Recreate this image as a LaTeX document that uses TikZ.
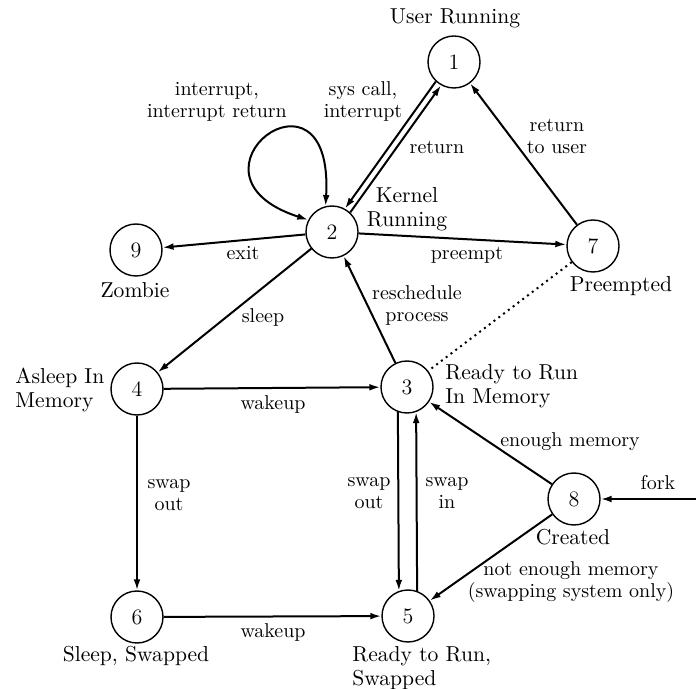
\documentclass[tikz,border=0pt]{standalone}
\usepackage{tikz}
\usetikzlibrary{arrows.meta}

\begin{document}
\begin{tikzpicture}[x=0.5pt, y=-0.5pt,
    proc/.style={draw, circle, line width=0.7pt, minimum size=26pt,
                 inner sep=0pt, font=\fontsize{11}{13}\selectfont},
    stname/.style={font=\fontsize{10.8}{12}\selectfont, inner sep=0pt},
    lbl/.style={font=\fontsize{10}{11}\selectfont, align=center, inner sep=0pt},
    arr/.style={-{Latex[length=5.5pt,width=3.4pt]}, line width=1pt},
    dblarr/.style={{Latex[length=5.5pt,width=3.4pt]}-{Latex[length=5.5pt,width=3.4pt]}, line width=1pt}
  ]
    \useasboundingbox (0,0) rectangle (696,689);

    % process states
    \node[proc] (n1) at (454,62)  {1};
    \node[proc] (n2) at (332,232) {2};
    \node[proc] (n3) at (407,387) {3};
    \node[proc] (n4) at (137,389) {4};
    \node[proc] (n5) at (408,616) {5};
    \node[proc] (n6) at (137,617) {6};
    \node[proc] (n7) at (593,246) {7};
    \node[proc] (n8) at (574,499) {8};
    \node[proc] (n9) at (136,250) {9};
    \coordinate (forkin) at (696,499);

    % state names
    \node[stname] at (455,18) {User Running};
    \node[stname, align=center] at (407,209) {Kernel\\Running};
    \node[stname] at (135,290) {Zombie};
    \node[stname] at (621,286) {Preempted};
    \node[stname, align=left, anchor=west] at (15,390) {Asleep In\\Memory};
    \node[stname, align=left, anchor=west] at (445,386) {Ready to Run\\In Memory};
    \node[stname] at (573,537) {Created};
    \node[stname] at (136,656) {Sleep, Swapped};
    \node[stname, align=left, anchor=west] at (352,668) {Ready to Run,\\Swapped};

    % transitions
    \draw[arr] (n1.227) -- (n2.61);
    \draw[arr] (n2.47) -- (n1.241);
    \draw[dblarr] (n2.153) .. controls +(-140,-45) and +(9,-158) .. (n2.104);
    \draw[arr] (n2) -- (n9);
    \draw[arr] (n2) -- (n7);
    \draw[arr] (n7) -- (n1);
    \draw[line width=1pt, dotted] (n7) -- (n3);
    \draw[arr] (n3) -- (n2);
    \draw[arr] (n2) -- (n4);
    \draw[arr] (n4) -- (n3);
    \draw[arr] (n4) -- (n6);
    \draw[arr] (n6) -- (n5);
    \draw[arr] (n3.250) -- (n5.110);
    \draw[arr] (n5.70) -- (n3.290);
    \draw[arr] (n8) -- (n3);
    \draw[arr] (n8) -- (n5);
    \draw[arr] (forkin) -- (n8);

    % transition labels
    \node[lbl] at (217,102) {interrupt,\\interrupt return};
    \node[lbl] at (363,102) {sys call,\\interrupt};
    \node[lbl] at (437,147) {return};
    \node[lbl] at (557,136) {return\\to user};
    \node[lbl] at (243,253) {exit};
    \node[lbl] at (467,255) {preempt};
    \node[lbl] at (417,306) {reschedule\\process};
    \node[lbl] at (263,318) {sleep};
    \node[lbl] at (273,405) {wakeup};
    \node[lbl] at (169,495) {swap\\out};
    \node[lbl] at (369,493) {swap\\out};
    \node[lbl] at (447,493) {swap\\in};
    \node[lbl] at (570,442) {enough memory};
    \node[lbl] at (658,483) {fork};
    \node[lbl] at (571,582) {not enough memory\\(swapping system only)};
    \node[lbl] at (273,632) {wakeup};
  \end{tikzpicture}
\end{document}
